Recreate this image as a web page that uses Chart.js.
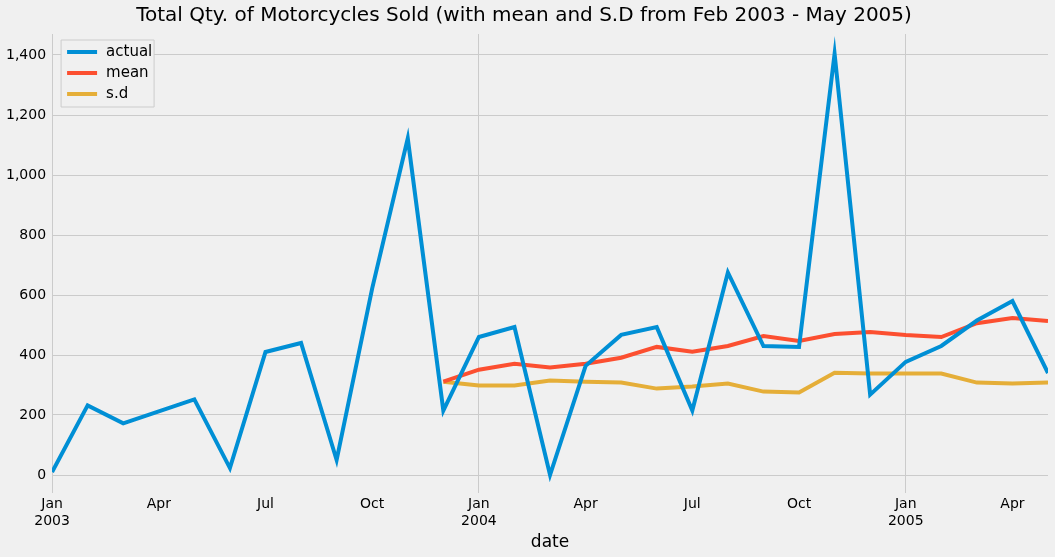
<!DOCTYPE html>
<html><head><meta charset="utf-8">
<script src="https://cdn.jsdelivr.net/npm/chart.js@4/dist/chart.umd.min.js"></script>
<style>html,body{margin:0;background:#f0f0f0;}#wrap{width:1055px;height:557px;}</style>
</head><body><div id="wrap"><canvas id="c"></canvas></div>
<script>
// months Jan 2003 .. May 2005 (index 0..28)
var monthNames = ["Jan","Feb","Mar","Apr","May","Jun","Jul","Aug","Sep","Oct","Nov","Dec"];
var actual = [10,232,172,212,252,23,410,440,50,622,1122,215,460,493,0,364,467,493,215,675,430,427,1404,268,377,430,515,580,340];
// rolling mean / s.d start at Dec 2003 (index 11)
var meanVals = [311,351,371,358,371,391,427,411,430,463,447,470,477,467,460,506,523,513];
var sdVals = [311,298,298,315,311,308,288,295,305,278,275,341,338,338,338,308,305,308];
var startIdx = 11;

function pts(arr, off) { return arr.map(function (v, i) { return {x: i + off, y: v}; }); }

var legendBox = {
  id: "legendBox",
  afterDraw: function (chart) {
    var ctx = chart.ctx, a = chart.chartArea;
    var x = a.left + 9, y = a.top + 6;
    ctx.save();
    ctx.fillStyle = "#f0f0f0"; ctx.strokeStyle = "#cccccc"; ctx.lineWidth = 1;
    ctx.beginPath(); ctx.rect(x, y, 93, 67); ctx.fill(); ctx.stroke();
    ctx.font = "15px 'DejaVu Sans'"; ctx.textBaseline = "middle";
    chart.data.datasets.forEach(function (d, i) {
      var yy = y + 12 + i * 21;
      ctx.strokeStyle = d.borderColor; ctx.lineWidth = 4;
      ctx.beginPath(); ctx.moveTo(x + 6, yy); ctx.lineTo(x + 36, yy); ctx.stroke();
      ctx.fillStyle = "#000"; ctx.fillText(d.label, x + 45, yy);
    });
    ctx.restore();
  }
};

new Chart("c", {
  type: "line",
  data: {
    datasets: [
      {label: "actual", data: pts(actual, 0), borderColor: "#008fd5"},
      {label: "mean", data: pts(meanVals, startIdx), borderColor: "#fc4f30"},
      {label: "s.d", data: pts(sdVals, startIdx), borderColor: "#e5ae38"}
    ]
  },
  options: {
    animation: false, responsive: true, maintainAspectRatio: false,
    layout: {padding: {right: 7, top: 0, left: 0}},
    elements: {point: {radius: 0}, line: {borderWidth: 4, tension: 0}},
    plugins: {
      legend: {display: false}, tooltip: {enabled: false},
      title: {display: true, text: "Total Qty. of Motorcycles Sold (with mean and S.D from Feb 2003 - May 2005)",
        color: "#000", font: {family: "DejaVu Sans", size: 20, weight: "normal"}, padding: {top: 4, bottom: 6}}
    },
    scales: {
      x: {
        type: "linear", min: 0, max: 28,
        afterBuildTicks: function (s) { var t = []; for (var i = 0; i <= 27; i += 3) t.push({value: i}); s.ticks = t; },
        ticks: {
          color: "#000", font: {family: "DejaVu Sans", size: 14}, maxRotation: 0, autoSkip: false,
          callback: function (v) { var m = monthNames[v % 12]; return v % 12 === 0 ? [m, String(2003 + v / 12)] : m; }
        },
        grid: {color: function (c) { return c.tick && c.tick.value % 12 === 0 ? "#cbcbcb" : "rgba(0,0,0,0)"; }, drawTicks: false, lineWidth: 1},
        border: {display: false},
        title: {display: true, text: "date", color: "#000", font: {family: "DejaVu Sans", size: 17}, padding: {top: 0}}
      },
      y: {
        min: -60, max: 1470,
        afterBuildTicks: function (s) { var t = []; for (var v = 0; v <= 1400; v += 200) t.push({value: v}); s.ticks = t; },
        ticks: {color: "#000", font: {family: "DejaVu Sans", size: 14}, padding: 6},
        grid: {color: "#cbcbcb", drawTicks: false}, border: {display: false}
      }
    }
  },
  plugins: [legendBox]
});
</script></body></html>
